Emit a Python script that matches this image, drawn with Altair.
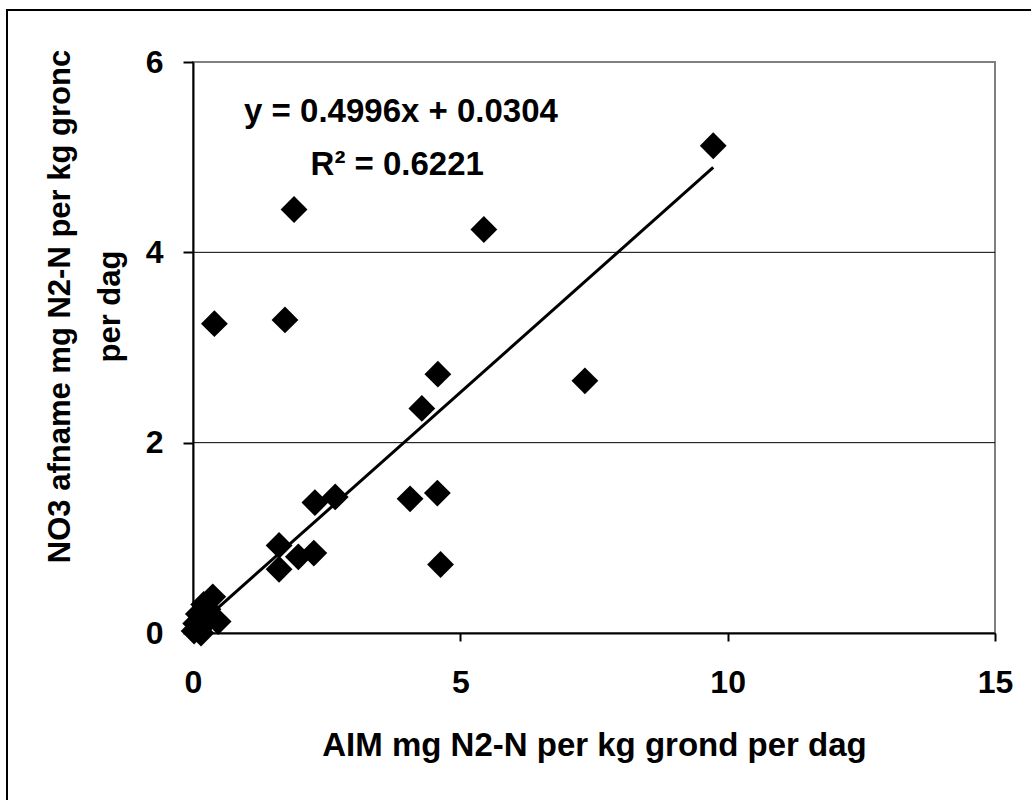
import altair as alt
import pandas as pd

# Scatter data (AIM vs NO3 afname)
aim = [9.73, 5.44, 1.89, 0.40, 1.72, 7.33, 4.58, 4.28, 4.06, 4.57, 4.63,
       2.66, 2.28, 1.61, 1.61, 1.97, 2.26, 0.37, 0.47, 0.05, 0.10, 0.20,
       0.28, 0.02, 0.12, 0.30, 0.15]
no3 = [5.12, 4.24, 4.45, 3.25, 3.29, 2.65, 2.72, 2.36, 1.41, 1.47, 0.72,
       1.43, 1.37, 0.92, 0.67, 0.80, 0.84, 0.38, 0.12, 0.10, 0.20, 0.30,
       0.25, 0.02, 0.05, 0.15, 0.00]

slope = 0.4996
intercept = 0.0304
eq_lines = ["y = 0.4996x + 0.0304", "R² = 0.6221"]
eq_x = [3.89, 3.82]
eq_y = [5.37, 4.81]

x_ticks = [0, 5, 10, 15]
y_ticks = [0, 2, 4, 6]
grid_vals = [2, 4]

FONT = "Liberation Sans"

df = pd.DataFrame({"x": aim, "y": no3})
trend = pd.DataFrame({"x": [min(aim), max(aim)]})
trend["y"] = slope * trend["x"] + intercept
eq = pd.DataFrame({"t": eq_lines, "x": eq_x, "y": eq_y})
grid = pd.DataFrame({"g": grid_vals})

xscale = alt.Scale(domain=[0, 15], nice=False, zero=False)
yscale = alt.Scale(domain=[0, 6], nice=False, zero=False)

frame = alt.Chart(pd.DataFrame({"a": [0]})).mark_rect(
    fill=None, stroke="black", strokeWidth=2, clip=False
).encode(
    x=alt.value(-186), x2=alt.value(850), y=alt.value(-52), y2=alt.value(760)
)

gridlines = alt.Chart(grid).mark_rule(color="black", strokeWidth=1).encode(
    y=alt.Y("g:Q", scale=yscale)
)

points = alt.Chart(df).mark_point(
    shape="diamond", filled=True, size=720, color="black", opacity=1
).encode(
    x=alt.X("x:Q", scale=xscale,
            axis=alt.Axis(values=x_ticks, title="AIM mg N2-N per kg grond per dag",
                          grid=False, format="d", tickSize=8, labelPadding=26,
                          titleY=122, titleBaseline="alphabetic")),
    y=alt.Y("y:Q", scale=yscale,
            axis=alt.Axis(values=y_ticks,
                          title=["NO3 afname mg N2-N per kg gronc", "per dag"],
                          grid=False, format="d", tickSize=10, labelPadding=20,
                          titleX=-133, titleY=244, titleAngle=270,
                          titleAlign="center", titleBaseline="middle",
                          titleLineHeight=50, titleFontSize=31))
)

line = alt.Chart(trend).mark_line(color="black", strokeWidth=3).encode(
    x=alt.X("x:Q", scale=xscale), y=alt.Y("y:Q", scale=yscale)
)

text = alt.Chart(eq).mark_text(
    font=FONT, fontSize=33, fontWeight="bold", color="black",
    align="center", baseline="alphabetic"
).encode(
    x=alt.X("x:Q", scale=xscale), y=alt.Y("y:Q", scale=yscale), text="t:N"
)

chart = alt.layer(frame, gridlines, line, points, text).properties(
    width=802, height=571,
    autosize=alt.AutoSizeParams(type="none"),
    padding={"left": 193, "top": 62, "right": 36, "bottom": 167},
    background="white",
).configure_view(
    stroke="#808080", strokeWidth=2
).configure_axis(
    domainColor="black", domainWidth=2, tickColor="black", tickWidth=2,
    labelFont=FONT, labelFontSize=32, labelFontWeight="bold", labelColor="black",
    titleFont=FONT, titleFontSize=33, titleFontWeight="bold", titleColor="black",
    labelFlush=False, labelOverlap=False
)

chart.save("out.html", embed_options={"renderer": "svg", "actions": False})
